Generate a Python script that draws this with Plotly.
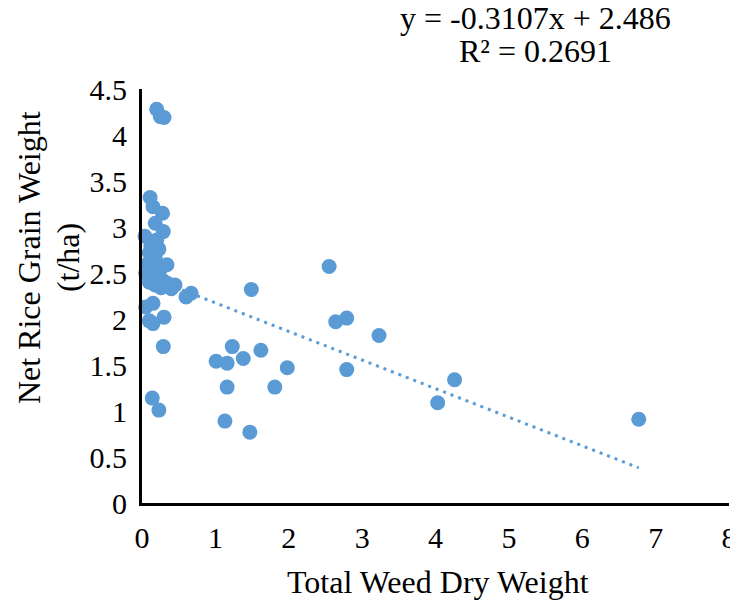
import plotly.graph_objects as go

# Total weed dry weight (x) and net rice grain weight t/ha (y)
weed_dry_weight = [
    0.20, 0.25, 0.30,
    0.11, 0.15, 0.28, 0.18, 0.29, 0.04, 0.20, 0.12, 0.23, 0.10, 0.18,
    0.08, 0.16, 0.25, 0.34, 0.05, 0.12, 0.20, 0.28, 0.10, 0.18, 0.34,
    0.45, 0.26, 0.40, 0.60, 0.67,
    0.05, 0.15, 0.10, 0.15, 0.30, 0.29, 0.14, 0.23,
    1.49, 2.55, 2.64, 2.79, 3.23, 1.23, 1.01, 1.16, 1.38, 1.62, 1.98,
    2.79, 1.16, 1.81, 1.13, 1.47, 4.03, 4.26, 6.77,
]
rice_grain_weight = [
    4.28, 4.20, 4.19,
    3.32, 3.22, 3.15, 3.04, 2.95, 2.90, 2.86, 2.80, 2.76, 2.72, 2.66,
    2.60, 2.56, 2.54, 2.59, 2.50, 2.47, 2.45, 2.42, 2.40, 2.37, 2.39,
    2.37, 2.34, 2.33, 2.24, 2.28,
    2.13, 2.17, 1.98, 1.95, 2.02, 1.70, 1.14, 1.01,
    2.32, 2.57, 1.97, 2.01, 1.82, 1.70, 1.54, 1.52, 1.57, 1.66, 1.47,
    1.45, 1.26, 1.26, 0.89, 0.77, 1.09, 1.34, 0.91,
]

# Linear trendline as reported on the chart
slope = -0.3107
intercept = 2.486
r_squared = 0.2691
trend_x = [min(weed_dry_weight), max(weed_dry_weight)]
trend_y = [slope * v + intercept for v in trend_x]

x_ticks = [0, 1, 2, 3, 4, 5, 6, 7, 8]
y_ticks = [0, 0.5, 1, 1.5, 2, 2.5, 3, 3.5, 4, 4.5]
y_tick_labels = ["0", "0.5", "1", "1.5", "2", "2.5", "3", "3.5", "4", "4.5"]

BLUE = "#5B9BD5"
FONT = "Liberation Serif"

# The page body adds an 8px offset; the figure is sized so the page does not overflow
OFF = 8
W, H = 738 - OFF, 603 - OFF

fig = go.Figure()
fig.add_trace(go.Scatter(
    x=trend_x, y=trend_y, mode="lines",
    line=dict(color=BLUE, width=3, dash="3px,5px"),
    hoverinfo="skip", showlegend=False,
))
fig.add_trace(go.Scatter(
    x=weed_dry_weight, y=rice_grain_weight, mode="markers",
    marker=dict(color=BLUE, size=15, line=dict(width=0)),
    showlegend=False, cliponaxis=False,
))

L, T = 142 - OFF, 89 - OFF
R = W - (729.5 - OFF)
B = H - (503 - OFF)
fig.update_layout(
    width=W, height=H,
    margin=dict(l=L, r=R, t=T, b=B),
    plot_bgcolor="white", paper_bgcolor="white",
    font=dict(family=FONT, size=30, color="black"),
    xaxis=dict(
        range=[0, 8], tickvals=x_ticks, ticktext=[str(v) for v in x_ticks],
        showgrid=False, zeroline=False, showline=True,
        linecolor="black", linewidth=3, automargin=False,
        ticks="outside", ticklen=6, tickcolor="rgba(0,0,0,0)",
        tickfont=dict(family=FONT, size=30), ticklabeloverflow="allow",
    ),
    yaxis=dict(
        range=[0, 4.5], tickvals=y_ticks, ticktext=y_tick_labels,
        showgrid=False, zeroline=False, showline=True,
        linecolor="black", linewidth=3, automargin=False,
        ticks="outside", ticklen=6, tickcolor="rgba(0,0,0,0)",
        tickfont=dict(family=FONT, size=30), ticklabeloverflow="allow",
    ),
)

pw = W - L - R
ph = H - T - B

def px_to_paper(px, py):
    # px, py in reference-image pixels
    return (px - OFF - L) / pw, (H - B - (py - OFF)) / ph

def add_text(text, px, py, angle=0):
    x, y = px_to_paper(px, py)
    fig.add_annotation(
        text=text, x=x, y=y, xref="paper", yref="paper",
        textangle=angle, showarrow=False, xanchor="center", yanchor="middle",
        font=dict(family=FONT, size=32),
    )

add_text("Net Rice Grain Weight", 29, 258, -90)
add_text("(t/ha)", 68, 258, -90)
add_text("Total Weed Dry Weight", 438, 582)
add_text(f"y = {slope}x + {intercept}", 536, 18)
add_text(f"R² = {r_squared}", 536, 51)

fig.write_html("out.html")
